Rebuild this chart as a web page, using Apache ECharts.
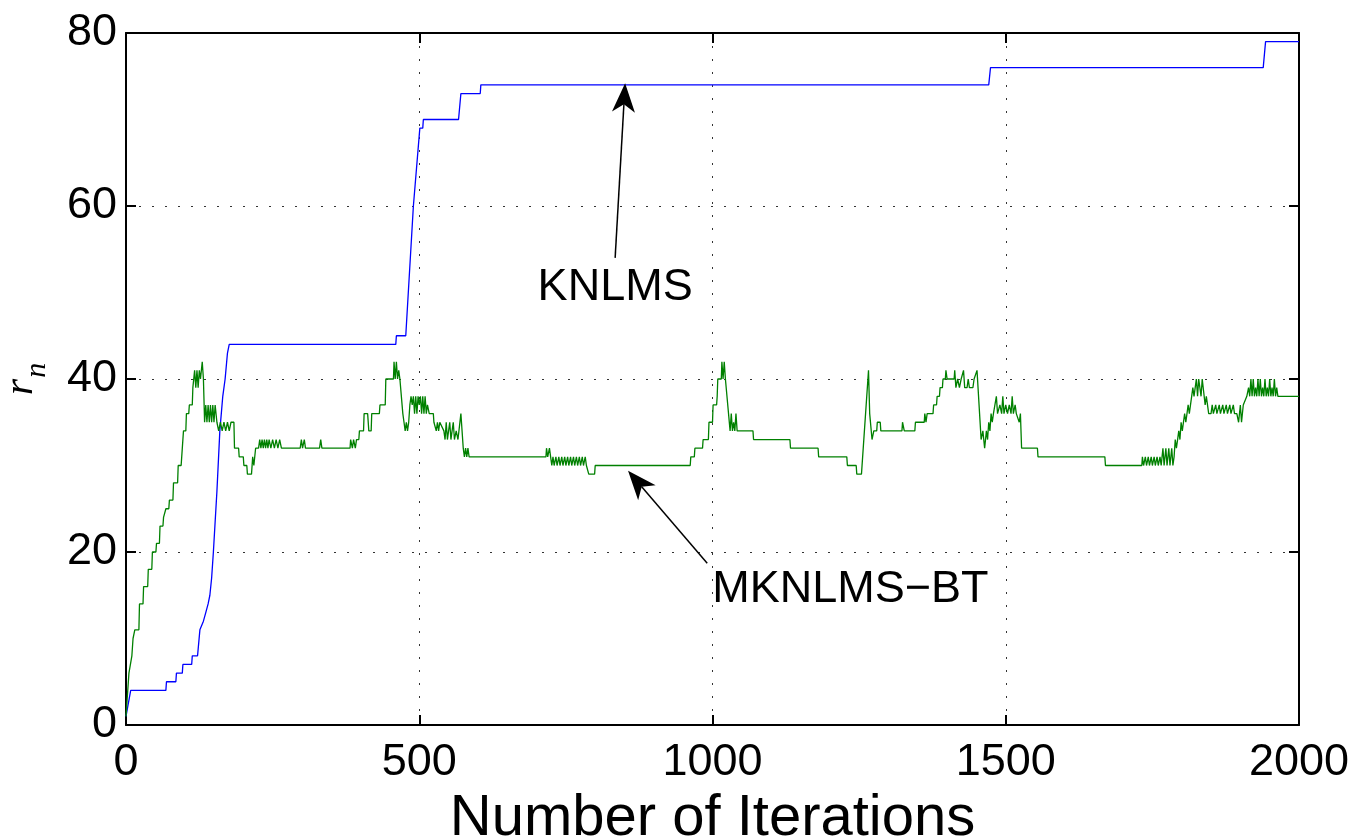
<!DOCTYPE html>
<html>
<head>
<meta charset="utf-8">
<script src="https://cdn.jsdelivr.net/npm/echarts@6/dist/echarts.min.js"></script>
<style>
html, body { margin: 0; padding: 0; background: #fff; }
#chart { width: 1356px; height: 838px; }
</style>
</head>
<body>
<div id="chart"></div>
<script>
// axis ranges / ticks
var xRange = [0, 2000, 500];
var yRange = [0, 80, 20];

// KNLMS dictionary size (corners)
var knlmsData = [
    [0, 1], [8, 4], [68, 4], [69, 5], [85, 5], [86, 6], [96, 6], [97, 7], [112, 7], [113, 8],
    [122, 8], [126, 11], [132, 12], [136, 13], [140, 14], [143, 15], [146, 17], [149, 20],
    [155, 27], [160, 34], [165, 38], [169, 40], [173, 43], [176, 44], [460, 44], [461, 45],
    [477, 45], [490, 60], [501, 69], [506, 69], [507, 70], [567, 70], [571, 73], [604, 73],
    [605, 74], [1471, 74], [1474, 76], [1939, 76], [1943, 79], [2000, 79]
];

// MKNLMS-BT dictionary size
var mknlmsData = [
    [0, 1], [2, 3], [5, 6], [10, 8], [12, 10], [15, 11], [22, 11], [23, 14], [29, 14], [30, 16],
    [37, 16], [38, 18], [44, 18], [45, 20], [51, 20], [52, 21], [57, 21], [58, 23], [63, 23],
    [64, 24], [67, 24], [68, 25], [73, 25], [74, 26], [80, 26], [81, 28], [88, 28], [89, 30],
    [94, 30], [95, 31], [97, 31], [98, 34], [102, 34], [103, 36], [107, 36], [108, 37], [113, 37],
    [114, 39], [116, 39], [117, 41], [119, 39], [121, 41], [123, 39], [125, 41], [127, 40],
    [130, 42], [132, 40], [134, 35], [136, 37], [138, 35], [140, 37], [142, 35], [144, 37],
    [146, 35], [148, 37], [150, 35], [152, 37], [155, 35], [158, 34], [161, 35], [164, 34],
    [167, 35], [170, 34], [173, 35], [176, 34], [179, 35], [184, 35], [185, 32], [192, 32],
    [193, 31], [200, 31], [201, 30], [206, 30], [207, 29], [214, 29], [216, 31], [218, 30],
    [221, 32], [226, 32], [228, 33], [230, 32], [232, 33], [234, 32], [236, 33], [238, 32],
    [240, 33], [242, 32], [244, 33], [247, 32], [250, 33], [253, 32], [256, 33], [259, 32],
    [262, 33], [265, 32], [297, 32], [299, 33], [301, 32], [304, 33], [306, 32], [330, 32],
    [332, 33], [334, 32], [382, 32], [383, 33], [386, 32], [388, 33], [391, 32], [393, 33],
    [397, 33], [398, 34], [405, 34], [406, 36], [412, 36], [414, 34], [418, 34], [419, 36],
    [432, 36], [433, 37], [442, 37], [443, 40], [456, 40], [457, 42], [459, 40], [461, 42],
    [463, 40], [465, 41], [467, 40], [469, 40], [472, 36], [474, 35], [476, 34], [478, 35],
    [480, 34], [482, 35], [484, 37], [486, 38], [488, 37], [490, 38], [492, 36], [494, 38],
    [496, 36], [498, 38], [500, 37], [502, 38], [504, 36], [506, 38], [508, 36], [510, 38],
    [512, 36], [514, 37], [517, 36], [524, 36], [525, 35], [528, 35], [529, 34], [531, 35],
    [533, 34], [535, 35], [538, 35], [542, 34], [544, 33], [546, 35], [548, 33], [550, 34],
    [552, 35], [554, 33], [556, 34], [558, 35], [560, 33], [563, 34], [566, 33], [568, 33],
    [571, 36], [573, 36], [575, 32], [577, 31], [579, 32], [581, 31], [583, 32], [585, 31],
    [716, 31], [717, 32], [719, 31], [722, 32], [724, 31], [726, 30], [728, 31], [730, 30],
    [733, 31], [735, 30], [738, 31], [740, 30], [743, 31], [745, 30], [748, 31], [750, 30],
    [753, 31], [755, 30], [758, 31], [760, 30], [763, 31], [765, 30], [768, 31], [770, 30],
    [773, 31], [775, 30], [778, 31], [780, 30], [783, 31], [785, 30], [788, 30], [789, 29],
    [799, 29], [800, 30], [962, 30], [963, 31], [969, 31], [970, 32], [983, 32], [984, 33],
    [993, 33], [994, 35], [1000, 35], [1001, 37], [1007, 37], [1008, 38], [1009, 40], [1015, 40],
    [1016, 42], [1018, 40], [1020, 42], [1022, 40], [1024, 40], [1030, 34], [1032, 36],
    [1034, 34], [1036, 35], [1038, 34], [1040, 36], [1042, 34], [1045, 34], [1069, 34],
    [1070, 33], [1132, 33], [1133, 32], [1180, 32], [1181, 31], [1229, 31], [1230, 30],
    [1245, 30], [1246, 29], [1254, 29], [1266, 41], [1268, 36], [1272, 33], [1275, 34],
    [1280, 34], [1281, 35], [1286, 35], [1287, 34], [1323, 34], [1324, 35], [1326, 35],
    [1327, 34], [1345, 34], [1346, 35], [1361, 35], [1362, 36], [1364, 35], [1366, 36],
    [1376, 36], [1377, 37], [1382, 37], [1383, 38], [1387, 38], [1388, 39], [1392, 39],
    [1393, 40], [1397, 40], [1398, 41], [1400, 40], [1412, 40], [1413, 41], [1415, 39],
    [1418, 40], [1421, 39], [1424, 40], [1426, 40], [1428, 41], [1430, 39], [1434, 39],
    [1436, 40], [1438, 39], [1444, 39], [1446, 40], [1449, 40], [1451, 41], [1454, 41],
    [1458, 33], [1461, 34], [1464, 32], [1467, 34], [1469, 33], [1471, 35], [1473, 34],
    [1475, 36], [1477, 35], [1479, 36], [1482, 36], [1484, 38], [1486, 36], [1490, 37],
    [1493, 36], [1495, 38], [1497, 36], [1500, 37], [1503, 36], [1506, 37], [1509, 36],
    [1511, 38], [1513, 36], [1516, 37], [1518, 36], [1521, 36], [1523, 35], [1525, 36],
    [1527, 32], [1554, 32], [1555, 31], [1669, 31], [1670, 30], [1732, 30], [1733, 31],
    [1735, 30], [1738, 31], [1740, 30], [1743, 31], [1745, 30], [1748, 31], [1750, 30],
    [1753, 31], [1755, 30], [1758, 31], [1760, 30], [1763, 31], [1765, 30], [1768, 32],
    [1770, 30], [1773, 32], [1775, 30], [1778, 32], [1780, 30], [1783, 32], [1785, 30],
    [1787, 31], [1789, 33], [1791, 32], [1793, 33], [1795, 34], [1797, 33], [1799, 35],
    [1801, 34], [1803, 35], [1805, 36], [1807, 35], [1809, 36], [1811, 37], [1813, 36],
    [1815, 37], [1817, 38], [1819, 39], [1821, 38], [1823, 39], [1825, 40], [1827, 38],
    [1829, 40], [1831, 40], [1833, 38], [1835, 40], [1838, 40], [1840, 37], [1842, 38],
    [1844, 37], [1846, 36], [1850, 36], [1852, 37], [1854, 36], [1858, 37], [1860, 36],
    [1864, 37], [1866, 36], [1870, 37], [1872, 36], [1876, 37], [1878, 36], [1882, 37],
    [1884, 36], [1888, 37], [1890, 36], [1894, 36], [1897, 35], [1900, 37], [1902, 35],
    [1905, 37], [1908, 37], [1911, 38], [1914, 39], [1916, 38], [1918, 40], [1920, 38],
    [1922, 40], [1924, 38], [1926, 39], [1928, 38], [1930, 40], [1932, 38], [1934, 40],
    [1936, 38], [1938, 39], [1940, 38], [1942, 40], [1944, 38], [1946, 39], [1948, 38],
    [1950, 40], [1952, 38], [1954, 39], [1956, 38], [1958, 40], [1960, 38], [1962, 39],
    [1964, 38], [2000, 38]
];

// annotations: label text, label centre, arrow tail, arrow tip (data coords)
var annoText = ['KNLMS', 'MKNLMS\u2212BT'];
var annoLabelAt = [[834, 50.6], [1235, 15.6]];
var annoTail = [[834, 54], [991, 18.7]];
var annoTip = [[851, 74.2], [856, 29.4]];

var font = 'Liberation Sans, Arial, Helvetica, sans-serif';

var chart = echarts.init(document.getElementById('chart'));

function plainNum(v) {
    return String(v);
}

function sideAxis(pos) {
    return {
        type: 'value',
        position: pos,
        min: pos === 'top' ? xRange[0] : yRange[0],
        max: pos === 'top' ? xRange[1] : yRange[1],
        interval: pos === 'top' ? xRange[2] : yRange[2],
        axisLine: { show: true, onZero: false, lineStyle: { color: '#000', width: 2 } },
        axisTick: { show: true, inside: true, length: 10, lineStyle: { color: '#000', width: 2 } },
        axisLabel: { show: false },
        splitLine: { show: false }
    };
}

var option = {
    animation: false,
    backgroundColor: '#fff',
    grid: { left: 126, right: 57, top: 33, bottom: 113, containLabel: false, outerBoundsMode: 'none' },
    xAxis: [{
        type: 'value',
        min: xRange[0], max: xRange[1], interval: xRange[2],
        name: 'Number of Iterations',
        nameLocation: 'middle',
        nameGap: 58,
        nameTextStyle: { fontSize: 58, color: '#000', fontFamily: font },
        axisLine: { onZero: false, lineStyle: { color: '#000', width: 2 } },
        axisTick: { inside: true, length: 10, lineStyle: { color: '#000', width: 2 } },
        axisLabel: { fontSize: 45, color: '#000', margin: 15, fontFamily: font, formatter: plainNum },
        splitLine: { show: true, lineStyle: { color: '#333', width: 1, type: [2, 11] } }
    }, sideAxis('top')],
    yAxis: [{
        type: 'value',
        min: yRange[0], max: yRange[1], interval: yRange[2],
        name: '{r|r}{n|n}',
        nameLocation: 'middle',
        nameRotate: 90,
        nameGap: 74,
        nameTextStyle: {
            rich: {
                r: { fontSize: 42, fontStyle: 'italic', fontFamily: 'Liberation Serif, serif', color: '#000', lineHeight: 36, padding: [0, 1, 10, 0], verticalAlign: 'bottom' },
                n: { fontSize: 30, fontStyle: 'italic', fontFamily: 'Liberation Serif, serif', color: '#000', lineHeight: 26, verticalAlign: 'bottom' }
            }
        },
        axisLine: { onZero: false, lineStyle: { color: '#000', width: 2 } },
        axisTick: { inside: true, length: 10, lineStyle: { color: '#000', width: 2 } },
        axisLabel: { fontSize: 45, color: '#000', margin: 9, fontFamily: font, formatter: plainNum },
        splitLine: { show: true, lineStyle: { color: '#333', width: 1, type: [2, 11] } }
    }, sideAxis('right')],
    series: [{
        name: 'KNLMS',
        type: 'line',
        data: knlmsData,
        showSymbol: false,
        lineStyle: { color: '#0000ff', width: 1.3 },
        itemStyle: { color: '#0000ff' },
        z: 3
    }, {
        name: 'MKNLMS-BT',
        type: 'line',
        data: mknlmsData,
        showSymbol: false,
        lineStyle: { color: '#008000', width: 1.3 },
        itemStyle: { color: '#008000' },
        z: 4
    }]
};

chart.setOption(option);

// arrows + labels, placed through the chart's own coordinate system
function arrowHead(tail, tip, len, wid, notch) {
    var dx = tip[0] - tail[0], dy = tip[1] - tail[1];
    var d = Math.sqrt(dx * dx + dy * dy);
    var ux = dx / d, uy = dy / d;
    var px = -uy, py = ux;
    var bx = tip[0] - ux * len, by = tip[1] - uy * len;
    return [
        tip,
        [bx + px * wid / 2, by + py * wid / 2],
        [tip[0] - ux * (len - notch), tip[1] - uy * (len - notch)],
        [bx - px * wid / 2, by - py * wid / 2]
    ];
}

var graphics = [];
for (var i = 0; i < annoText.length; i++) {
    var t = chart.convertToPixel({ gridIndex: 0 }, annoTail[i]);
    var p = chart.convertToPixel({ gridIndex: 0 }, annoTip[i]);
    var l = chart.convertToPixel({ gridIndex: 0 }, annoLabelAt[i]);
    var head = arrowHead(t, p, 29, 23, 8);
    graphics.push({
        type: 'line',
        shape: { x1: t[0], y1: t[1], x2: head[2][0], y2: head[2][1] },
        style: { stroke: '#000', lineWidth: 1.5 },
        z: 10
    });
    graphics.push({
        type: 'polygon',
        shape: { points: head },
        style: { fill: '#000' },
        z: 10
    });
    graphics.push({
        type: 'text',
        x: l[0], y: l[1],
        style: {
            text: annoText[i],
            fontSize: 45,
            fontFamily: font,
            fill: '#000',
            align: 'center',
            verticalAlign: 'middle'
        },
        z: 10
    });
}
chart.setOption({ graphic: graphics });

window.addEventListener('resize', function () {
    chart.resize();
});
</script>
</body>
</html>
